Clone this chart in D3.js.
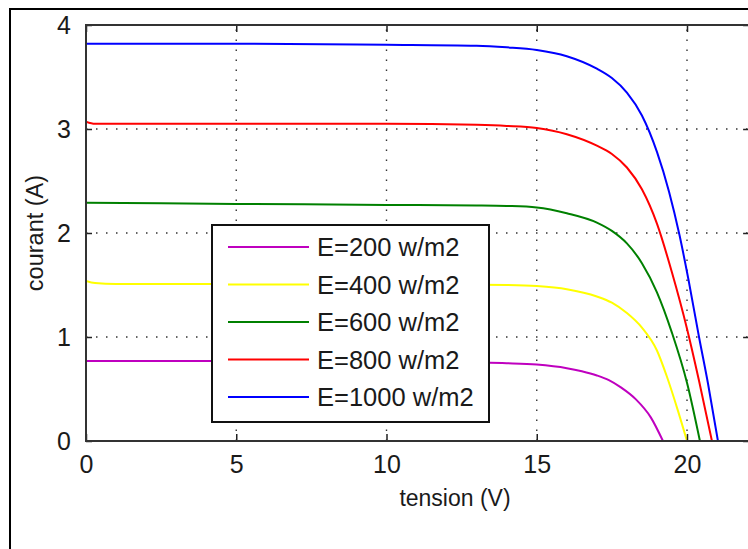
<!DOCTYPE html>
<html><head><meta charset="utf-8">
<script src="https://cdn.jsdelivr.net/npm/d3@7/dist/d3.min.js"></script>
<style>
html,body{margin:0;padding:0;background:#fff;}
svg{display:block;}
text{font-family:"Liberation Sans",Arial,sans-serif;fill:#1a1a1a;}
</style></head>
<body>
<svg id="chart" width="748" height="549"></svg>
<script>
// ---- data ----
const xTicks = [0, 5, 10, 15, 20];
const yTicks = [0, 1, 2, 3, 4];
const xDomain = [0, 22.1];
const yDomain = [0, 4];
const xLabel = "tension (V)";
const yLabel = "courant (A)";
const seriesNames = ["E=200 w/m2", "E=400 w/m2", "E=600 w/m2", "E=800 w/m2", "E=1000 w/m2"];
const seriesColors = ["#bf00bf", "#ffff00", "#008000", "#ff0000", "#0000ff"];

const v200  = [0, 5, 10, 13, 14, 15, 16, 16.5, 17, 17.4, 17.8, 18.3, 18.8, 19.2];
const i200  = [0.77, 0.77, 0.765, 0.755, 0.748, 0.735, 0.70, 0.67, 0.63, 0.585, 0.515, 0.40, 0.225, 0];
const v400  = [0, 0.3, 1, 5, 10, 14, 15, 16, 17, 17.5, 18, 18.5, 19, 19.33, 19.7, 20.0];
const i400  = [1.54, 1.52, 1.51, 1.51, 1.51, 1.50, 1.49, 1.46, 1.39, 1.33, 1.23, 1.09, 0.87, 0.62, 0.29, 0];
const v600  = [0, 5, 10, 13, 14, 15, 16, 17, 17.5, 18, 18.5, 19, 19.5, 20.0, 20.43];
const i600  = [2.29, 2.28, 2.27, 2.265, 2.26, 2.245, 2.19, 2.10, 2.02, 1.90, 1.71, 1.43, 1.04, 0.56, 0];
const v800  = [0, 0.3, 5, 10, 13, 14, 15, 16, 17, 17.5, 18, 18.5, 19, 19.5, 20.0, 20.4, 20.83];
const i800  = [3.07, 3.05, 3.05, 3.05, 3.04, 3.03, 3.01, 2.95, 2.84, 2.76, 2.63, 2.42, 2.09, 1.62, 1.08, 0.58, 0];
const v1000 = [0, 5, 10, 13, 14, 15, 16, 17, 17.5, 18, 18.5, 19, 19.4, 19.75, 20.05, 20.4, 20.7, 21.03];
const i1000 = [3.82, 3.82, 3.81, 3.80, 3.785, 3.76, 3.70, 3.58, 3.49, 3.35, 3.13, 2.78, 2.40, 1.98, 1.55, 1.00, 0.55, 0];

const seriesV = [v200, v400, v600, v800, v1000];
const seriesI = [i200, i400, i600, i800, i1000];

// ---- layout ----
const L = 86, T = 25, B = 441;
const svg = d3.select("#chart");
const x = d3.scaleLinear().domain(xDomain).range([L, L + 30.05 * (xDomain[1] - xDomain[0])]);
const y = d3.scaleLinear().domain(yDomain).range([B, T]);
const R = x(xDomain[1]);

// outer figure frame
svg.append("rect").attr("x", 10).attr("y", 9).attr("width", 800).attr("height", 600)
  .attr("fill", "#fff").attr("stroke", "#000").attr("stroke-width", 2);

// plot area background
svg.append("rect").attr("x", L).attr("y", T).attr("width", R - L).attr("height", B - T).attr("fill", "#fff");

// grid
const grid = svg.append("g").attr("stroke", "#333").attr("stroke-width", 1.4)
  .attr("stroke-dasharray", "1.5 8.5").attr("fill", "none");
xTicks.filter(d => d > xDomain[0]).forEach(d => {
  grid.append("line").attr("x1", x(d)).attr("x2", x(d)).attr("y1", B).attr("y2", T);
});
yTicks.filter(d => d > yDomain[0] && d < yDomain[1]).forEach(d => {
  grid.append("line").attr("x1", L).attr("x2", R).attr("y1", y(d)).attr("y2", y(d));
});

// curves
svg.append("clipPath").attr("id", "clip").append("rect")
  .attr("x", L).attr("y", T).attr("width", R - L).attr("height", B - T);
const line = d3.line().x(d => x(d[0])).y(d => y(d[1])).curve(d3.curveMonotoneX);
const curves = svg.append("g").attr("clip-path", "url(#clip)");
seriesV.forEach((vs, k) => {
  const pts = vs.map((v, j) => [v, seriesI[k][j]]);
  curves.append("path").attr("d", line(pts)).attr("fill", "none")
    .attr("stroke", seriesColors[k]).attr("stroke-width", 2);
});

// axes with inward ticks
const tl = 7;
const axB = svg.append("g").attr("transform", `translate(0,${B})`)
  .call(d3.axisBottom(x).tickValues(xTicks).tickSize(-tl).tickPadding(tl + 7).tickFormat(d3.format("d")));
const axT = svg.append("g").attr("transform", `translate(0,${T})`)
  .call(d3.axisTop(x).tickValues(xTicks).tickSize(-tl).tickFormat(""));
const axL = svg.append("g").attr("transform", `translate(${L},0)`)
  .call(d3.axisLeft(y).tickValues(yTicks).tickSize(-6).tickPadding(6 + 9).tickFormat(d3.format("d")));
const axR = svg.append("g").attr("transform", `translate(${R},0)`)
  .call(d3.axisRight(y).tickValues(yTicks).tickSize(-tl).tickFormat(""));
[axB, axT, axL, axR].forEach(a => {
  a.select(".domain").remove();
  a.selectAll(".tick line").attr("stroke", "#222").attr("stroke-width", 1.5);
  a.selectAll("text").attr("font-size", 25).attr("fill", "#1a1a1a")
    .attr("font-family", '"Liberation Sans",Arial,sans-serif');
});
axB.selectAll("text").attr("dy", "0.71em");

// plot box
svg.append("rect").attr("x", L).attr("y", T).attr("width", R - L).attr("height", B - T)
  .attr("fill", "none").attr("stroke", "#333").attr("stroke-width", 2);

// axis titles
svg.append("text").attr("x", 455).attr("y", 506).attr("text-anchor", "middle")
  .attr("font-size", 23).text(xLabel);
svg.append("text").attr("transform", `translate(43,${(T + B) / 2}) rotate(-90)`)
  .attr("text-anchor", "middle").attr("font-size", 23.5).text(yLabel);

// legend
const lg = svg.append("g");
lg.append("rect").attr("x", 212).attr("y", 225).attr("width", 277).attr("height", 197)
  .attr("fill", "#fff").attr("stroke", "#111").attr("stroke-width", 2);
seriesNames.forEach((n, k) => {
  const cy = 247 + k * 37.5;
  lg.append("line").attr("x1", 228).attr("x2", 309).attr("y1", cy).attr("y2", cy)
    .attr("stroke", seriesColors[k]).attr("stroke-width", 2);
  lg.append("text").attr("x", 317).attr("y", cy + 9).attr("font-size", 25.5).text(n);
});
</script>
</body></html>
